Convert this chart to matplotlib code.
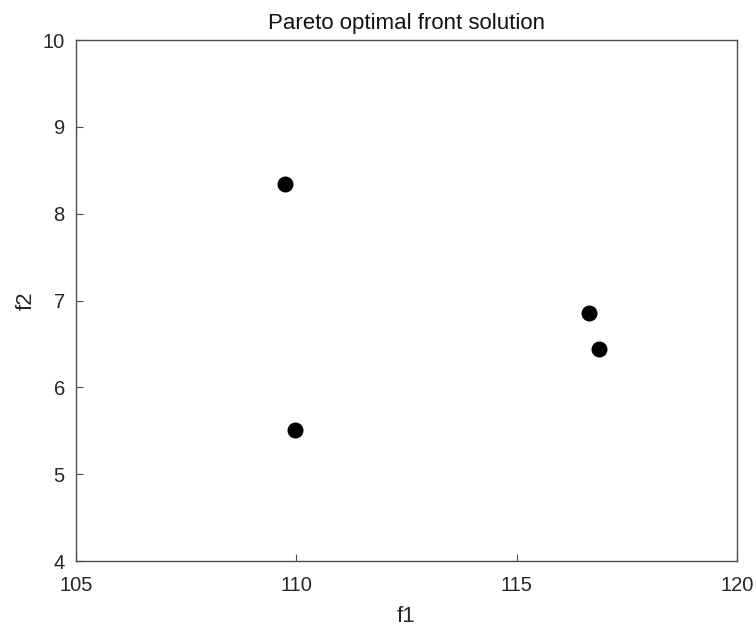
import matplotlib
matplotlib.use("Agg")
import matplotlib.pyplot as plt

# Pareto front points (f1, f2)
f1 = [109.74, 109.97, 116.65, 116.87]
f2 = [8.34, 5.51, 6.86, 6.44]

plt.rcParams['font.family'] = ['Liberation Sans', 'DejaVu Sans']

fig = plt.figure(figsize=(7.56, 6.26), dpi=100)
ax = fig.add_axes([0.1005, 0.1038, 0.8743, 0.8323])

ax.plot(f1, f2, 'o', color='black', markersize=10.5, linestyle='none')

ax.set_xlim(105, 120)
ax.set_ylim(4, 10)
ax.set_xticks([105, 110, 115, 120])
ax.set_yticks([4, 5, 6, 7, 8, 9, 10])

gray = '#262626'
for s in ax.spines.values():
    s.set_color('#4d4d4d')
    s.set_linewidth(1.0)
ax.tick_params(direction='in', length=5, width=0.8, colors='#4d4d4d',
               labelcolor=gray, labelsize=14.5, top=False, right=False)
ax.tick_params(axis='x', pad=11)
ax.tick_params(axis='y', pad=8)

ax.set_title('Pareto optimal front solution', fontsize=16, color='#111111', pad=8)
ax.set_xlabel('f1', fontsize=16, color=gray, labelpad=8)
ax.set_ylabel('f2', fontsize=16, color=gray, labelpad=4)

fig.savefig('out.png', dpi=100)
